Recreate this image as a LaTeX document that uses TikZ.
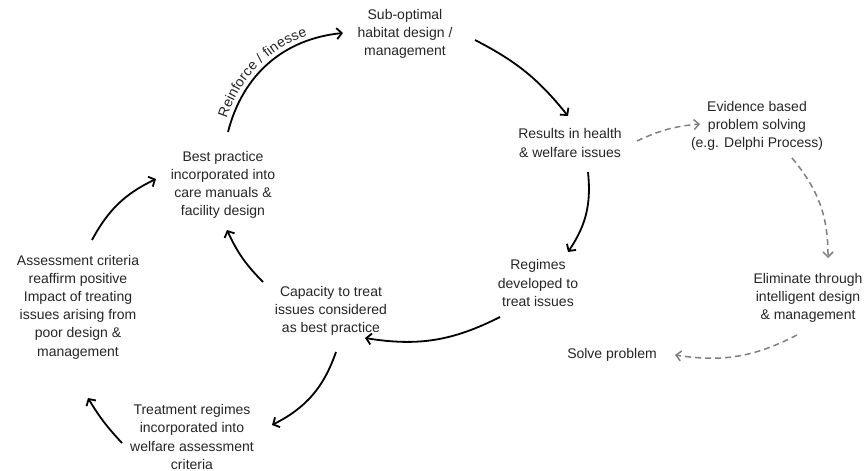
\documentclass[tikz,border=0pt]{standalone}
\usepackage{fontspec}
\setmainfont{Liberation Sans}
\usetikzlibrary{arrows.meta,decorations.text}
\begin{document}
\begin{tikzpicture}[x=1pt,y=-1pt,
  lbl/.style={align=center,inner sep=0pt,font=\fontsize{14}{18.2}\selectfont,text=black!85},
  flow/.style={line width=1.8pt,-{Straight Barb[length=5pt,width=11pt,line width=1.8pt]}},
  alt/.style={line width=1.5pt,gray,dash pattern=on 6pt off 4pt,-{Straight Barb[length=5pt,width=10pt,line width=1.5pt]}}]
\useasboundingbox[fill=white] (0,0) rectangle (868,471);
\node[lbl] (sub) at (405,34) {Sub-optimal\\habitat design /\\management};
\node[lbl] (res) at (570,143) {Results in health\\\& welfare issues};
\node[lbl] (evi) at (757,126) {Evidence based\\problem solving\\(e.g. Delphi Process)};
\node[lbl] (best) at (223,185) {Best practice\\incorporated into\\care manuals \&\\facility design};
\node[lbl] (ass) at (78,307) {Assessment criteria\\reaffirm positive\\Impact of treating\\issues arising from\\poor design \&\\management};
\node[lbl] (cap) at (331,311) {Capacity to treat\\issues considered\\as best practice};
\node[lbl] (reg) at (538,283) {Regimes\\developed to\\treat issues};
\node[lbl] (eli) at (808,298) {Eliminate through\\intelligent design\\\& management};
\node[lbl] (solve) at (612,355) {Solve problem};
\node[lbl] (treat) at (192,437) {Treatment regimes\\incorporated into\\welfare assessment\\criteria};

\draw[flow] ([shift={(5,-53)}]best.center) to[bend left=35] ([shift={(-62,-1)}]sub.center);
\path[decorate,decoration={text along path,raise=5pt,text align={left indent=12pt},
  text={|\fontsize{14}{16}\selectfont\color{black!85}|Reinforce / finesse}}]
  ([shift={(5,-53)}]best.center) to[bend left=35] ([shift={(-62,-1)}]sub.center);
\draw[flow] ([shift={(70,6)}]sub.center) to[bend left=12] ([shift={(-2,-27)}]res.center);
\draw[flow] ([shift={(18,29)}]res.center) to[bend left=20] ([shift={(30,-31)}]reg.center);
\draw[flow] ([shift={(-38,34)}]reg.center) to[bend left=18] ([shift={(34,27)}]cap.center);
\draw[flow] ([shift={(-68,-29)}]cap.center) to[bend left=10] ([shift={(4,45)}]best.center);
\draw[flow] ([shift={(5,41)}]cap.center) to[bend left=22] ([shift={(80,-12)}]treat.center);
\draw[flow] ([shift={(-70,6)}]treat.center) to[bend left=6] ([shift={(10,91)}]ass.center);
\draw[flow] ([shift={(14,-67)}]ass.center) to[bend left=18] ([shift={(-67,-6)}]best.center);

\draw[alt] ([shift={(67,-2)}]res.center) to[bend left=10] ([shift={(-57,-2)}]evi.center);
\draw[alt] ([shift={(35,32)}]evi.center) to[bend left=20] ([shift={(20,-40)}]eli.center);
\draw[alt] ([shift={(-11,37)}]eli.center) to[bend left=18] ([shift={(63,0)}]solve.center);
\end{tikzpicture}
\end{document}
